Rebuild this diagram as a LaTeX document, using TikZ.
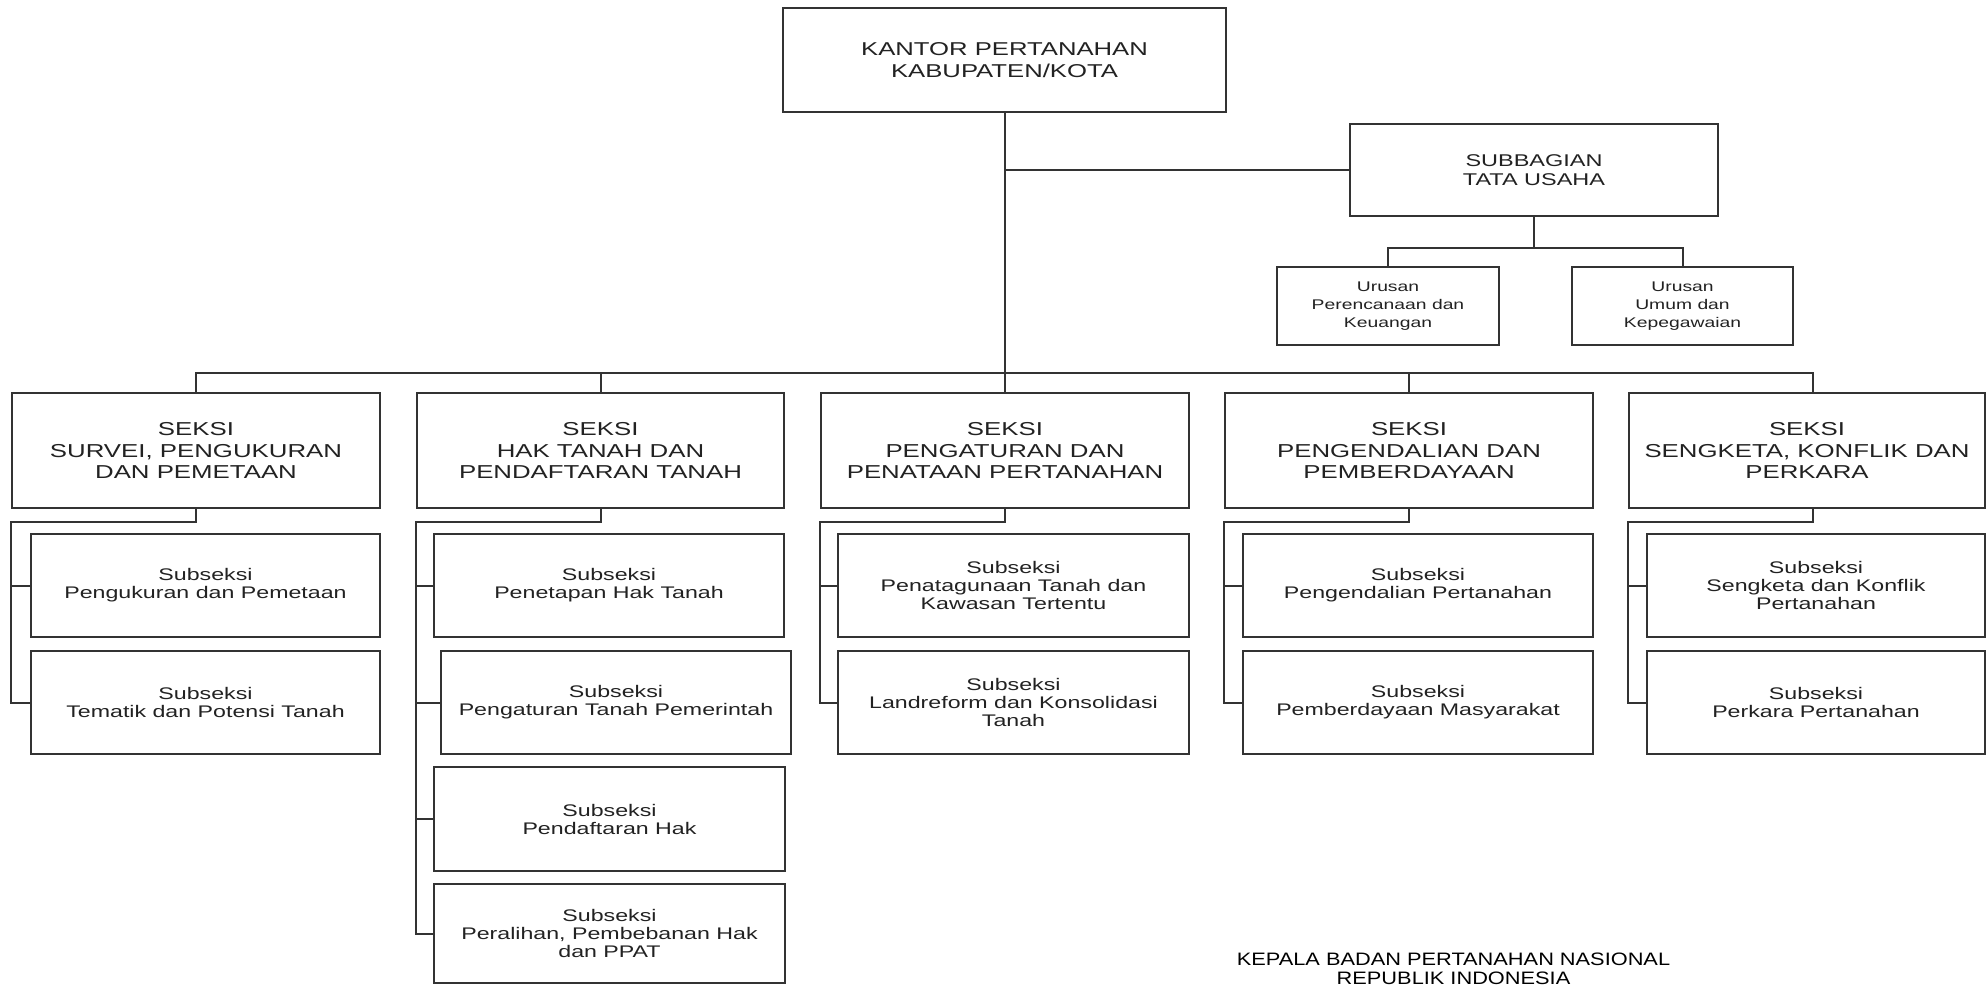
\documentclass[tikz,border=0pt]{standalone}
\usepackage{fontspec}
\setmainfont{Liberation Sans}[FakeStretch=1.38]
\newfontfamily\footfont{Liberation Sans}[FakeStretch=1.21]
\definecolor{ln}{HTML}{333333}
\definecolor{tx}{HTML}{222222}
\begin{document}
\begin{tikzpicture}[x=1pt,y=-1pt,
  box/.style={draw=ln, line width=2pt, rectangle, inner sep=0pt, align=center, text=tx, anchor=center},
  kbox/.style={box, font=\fontsize{18.6}{21.7}\selectfont},
  tbox/.style={box, font=\fontsize{17}{19}\selectfont},
  ubox/.style={box, font=\fontsize{14}{17.7}\selectfont},
  sbox/.style={box, minimum width=368pt, minimum height=115pt, font=\fontsize{18.7}{21.5}\selectfont},
  subbox/.style={box, minimum height=103pt, font=\fontsize{16.8}{18}\selectfont},
  conn/.style={draw=ln, line width=2pt}]
\useasboundingbox (0,0) rectangle (1987,985);
\fill[white] (0,0) rectangle (1987,985);

% top
\node[kbox, minimum width=443pt, minimum height=104pt] (K) at (1004.5,60) {KANTOR PERTANAHAN\\KABUPATEN/KOTA};
\node[tbox, minimum width=368pt, minimum height=92pt] (TU) at (1534,170) {SUBBAGIAN\\TATA USAHA};
\node[ubox, minimum width=222pt, minimum height=78pt] (UL) at (1388,306) {Urusan\\Perencanaan dan\\Keuangan};
\node[ubox, minimum width=221pt, minimum height=78pt] (UR) at (1682.5,306) {Urusan\\Umum dan\\Kepegawaian};

% seksi
\node[sbox] (S1) at (196,450.5) {SEKSI\\SURVEI, PENGUKURAN\\DAN PEMETAAN};
\node[sbox, minimum width=367pt] (S2) at (600.5,450.5) {SEKSI\\HAK TANAH DAN\\PENDAFTARAN TANAH};
\node[sbox] (S3) at (1005,450.5) {SEKSI\\PENGATURAN DAN\\PENATAAN PERTANAHAN};
\node[sbox] (S4) at (1409,450.5) {SEKSI\\PENGENDALIAN DAN\\PEMBERDAYAAN};
\node[sbox, minimum width=356pt] (S5) at (1807,450.5) {SEKSI\\SENGKETA, KONFLIK DAN\\PERKARA};

% subseksi
\node[subbox, minimum width=349pt] (S1a) at (205.5,585.5) {Subseksi\\Pengukuran dan Pemetaan};
\node[subbox, minimum width=349pt] (S1b) at (205.5,702.5) {Subseksi\\Tematik dan Potensi Tanah};

\node[subbox, minimum width=350pt] (S2a) at (609,585.5) {Subseksi\\Penetapan Hak Tanah};
\node[subbox, minimum width=350pt] (S2b) at (616,702.5) {Subseksi\\Pengaturan Tanah Pemerintah};
\node[subbox, minimum width=351pt, minimum height=104pt] (S2c) at (609.5,819) {Subseksi\\Pendaftaran Hak};
\node[subbox, minimum width=351pt, minimum height=99pt] (S2d) at (609.5,933.5) {Subseksi\\Peralihan, Pembebanan Hak\\dan PPAT};

\node[subbox, minimum width=351pt] (S3a) at (1013.5,585.5) {Subseksi\\Penatagunaan Tanah dan\\Kawasan Tertentu};
\node[subbox, minimum width=351pt] (S3b) at (1013.5,702.5) {Subseksi\\Landreform dan Konsolidasi\\Tanah};

\node[subbox, minimum width=350pt] (S4a) at (1418,585.5) {Subseksi\\Pengendalian Pertanahan};
\node[subbox, minimum width=350pt] (S4b) at (1418,702.5) {Subseksi\\Pemberdayaan Masyarakat};

\node[subbox, minimum width=338pt] (S5a) at (1816,585.5) {Subseksi\\Sengketa dan Konflik\\Pertanahan};
\node[subbox, minimum width=338pt] (S5b) at (1816,702.5) {Subseksi\\Perkara Pertanahan};

% footer text
\node[text=black, align=center, inner sep=0pt, font=\footfont\fontsize{18}{19}\selectfont] (KP) at (1453.5,969) {KEPALA BADAN PERTANAHAN NASIONAL\\REPUBLIK INDONESIA};

% connectors
\coordinate (bus) at (0,373);
\coordinate (c5) at (1813,0);
\draw[conn] (K.south) -- (K.south |- S3.north);
\draw[conn] (K.south |- TU.west) -- (TU.west);
\draw[conn] (TU.south) -- ++(0,31) coordinate (tub);
\draw[conn] (UL.north) |- (tub) -| (UR.north);
\draw[conn] (S1.north) -- (S1.north |- bus) -- (c5 |- bus) -- (c5 |- S5.north);
\draw[conn] (S2.north) -- (S2.north |- bus);
\draw[conn] (S4.north) -- (S4.north |- bus);

% brackets
\draw[conn] (S1.south) -- ++(0,13) coordinate (b1) -- (b1 -| S1.west) -- (S1.west |- S1b.west) -- (S1b.west);
\draw[conn] (S1.west |- S1a.west) -- (S1a.west);

\draw[conn] (S2.south) -- ++(0,13) coordinate (b2) -- (b2 -| S2.west) -- (S2.west |- S2d.west) -- (S2d.west);
\draw[conn] (S2.west |- S2a.west) -- (S2a.west);
\draw[conn] (S2.west |- S2b.west) -- (S2b.west);
\draw[conn] (S2.west |- S2c.west) -- (S2c.west);

\draw[conn] (S3.south) -- ++(0,13) coordinate (b3) -- (b3 -| S3.west) -- (S3.west |- S3b.west) -- (S3b.west);
\draw[conn] (S3.west |- S3a.west) -- (S3a.west);

\draw[conn] (S4.south) -- ++(0,13) coordinate (b4) -- (b4 -| S4.west) -- (S4.west |- S4b.west) -- (S4b.west);
\draw[conn] (S4.west |- S4a.west) -- (S4a.west);

\draw[conn] (c5 |- S5.south) -- ++(0,13) coordinate (b5) -- (b5 -| S5.west) -- (S5.west |- S5b.west) -- (S5b.west);
\draw[conn] (S5.west |- S5a.west) -- (S5a.west);
\end{tikzpicture}
\end{document}
